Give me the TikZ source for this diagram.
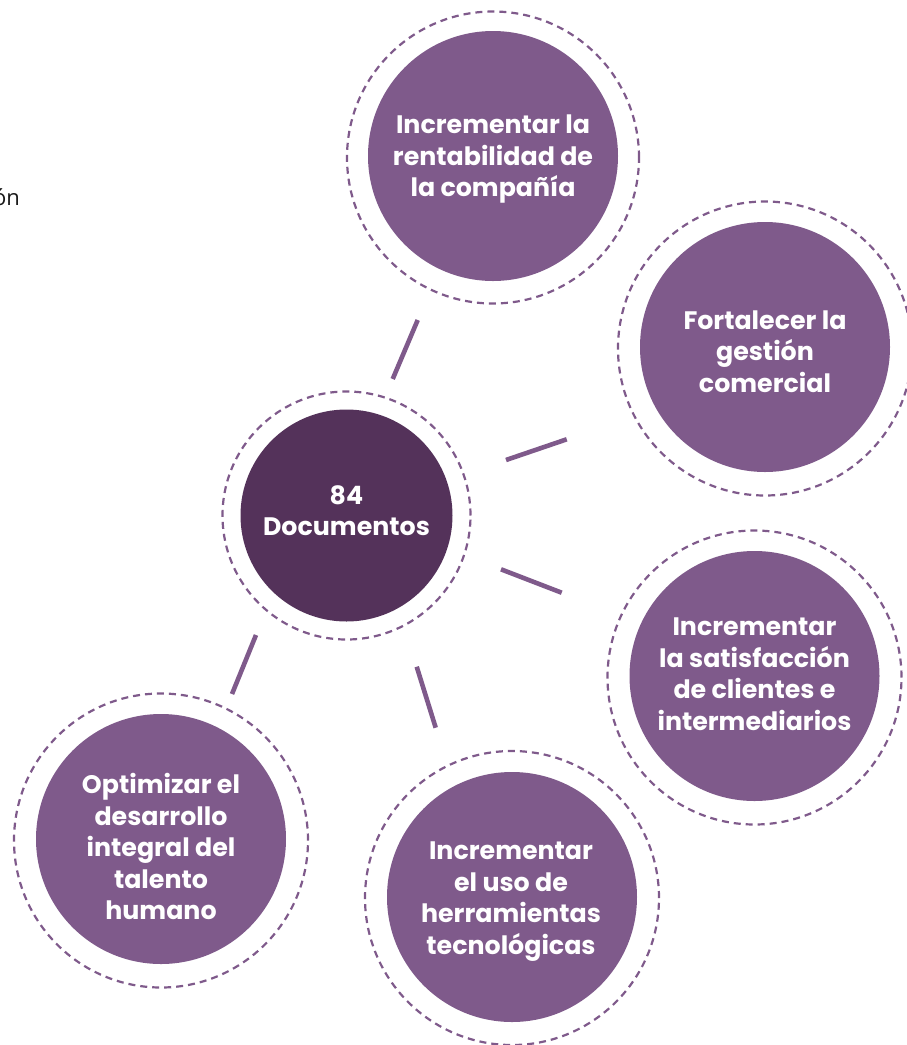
\documentclass[tikz,border=0pt]{standalone}
\usepackage{fontspec}
\newfontfamily\pop{Poppins}
\newfontfamily\lat{Open Sans}
\usetikzlibrary{calc}
\definecolor{lpurple}{HTML}{7F5A8B}
\definecolor{dpurple}{HTML}{54325A}
\tikzset{
  goalfill/.style={circle, fill=lpurple, minimum size=250pt, inner sep=0pt},
  centerfill/.style={circle, fill=dpurple, minimum size=212pt, inner sep=0pt},
  lab/.style={inner sep=0pt, text=white, align=center,
     font=\pop\bfseries\fontsize{25.3pt}{31.5pt}\selectfont},
  ring/.style={circle, draw=lpurple, line width=2.2pt, dash pattern=on 7pt off 5pt, inner sep=0pt},
  conn/.style={draw=lpurple, line width=4.6pt}
}
\begin{document}
\begin{tikzpicture}[x=1pt,y=-1pt]
\useasboundingbox (0,0) rectangle (907,1045);
% rings
\node[ring, minimum size=248pt] (cr) at (346.5,515.5) {};
\node[ring, minimum size=292pt] (tr) at (493,157.5) {};
\node[ring, minimum size=294pt] (rtr) at (765,348.5) {};
\node[ring, minimum size=294pt] (rbr) at (754.5,677.5) {};
\node[ring, minimum size=294pt] (bmr) at (512,898) {};
\node[ring, minimum size=294pt] (blr) at (161,840.5) {};
% filled circles
\node[centerfill] (c) at (346.5,515.5) {};
\node[goalfill] (t) at (493,156) {};
\node[goalfill] (rt) at (765,347) {};
\node[goalfill] (rb) at (754.5,676) {};
\node[goalfill] (bm) at (512,897) {};
\node[goalfill] (bl) at (161,839) {};
% labels
\node[lab] (cl) at (346.5,510.5) {84\\Documentos};
\node[lab] (tl) at (493,159) {Incrementar la\\rentabilidad de\\la compañía};
\node[lab] (rtl) at (765,351.5) {Fortalecer la\\gestión\\comercial};
\node[lab] (rbl) at (754.5,674) {Incrementar\\la satisfacción\\de clientes e\\intermediarios};
\node[lab] (bml) at (511,901.5) {Incrementar\\el uso de\\herramientas\\tecnológicas};
\node[lab] (bll) at (161,846.5) {Optimizar el\\desarrollo\\integral del\\talento\\humano};
% connector end points
\coordinate (t1) at (392.7,379);   \coordinate (t2) at (417.7,320);
\coordinate (rt1) at (506,460);    \coordinate (rt2) at (566.7,439.3);
\coordinate (rb1) at (501,569.3);  \coordinate (rb2) at (561.7,592.7);
\coordinate (bm1) at (416.7,666.7);\coordinate (bm2) at (435.7,727.7);
\coordinate (bl1) at (256,635);    \coordinate (bl2) at (232,694);
% connectors
\draw[conn] (t1) -- (t2);
\draw[conn] (rt1) -- (rt2);
\draw[conn] (rb1) -- (rb2);
\draw[conn] (bm1) -- (bm2);
\draw[conn] (bl1) -- (bl2);
% cut text fragment
\node[anchor=base east, inner sep=0pt, text=black!90, font=\lat\fontsize{22pt}{26pt}\selectfont] (frag) at (20,205) {ón};
\end{tikzpicture}
\end{document}
